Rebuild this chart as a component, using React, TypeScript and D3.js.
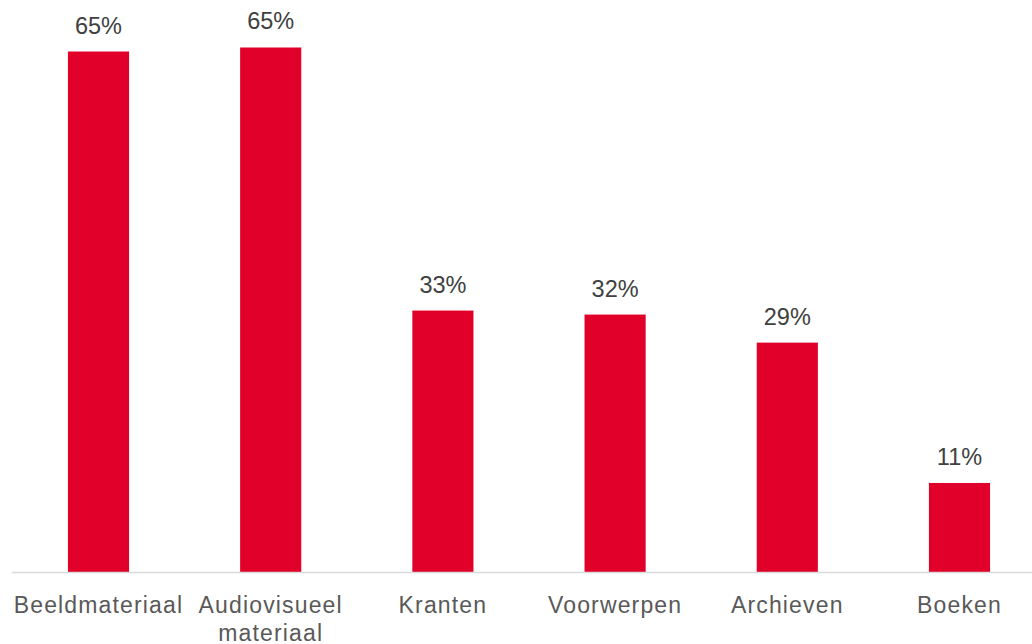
import React from "react";
import * as d3 from "d3";

const categories = ["Beeldmateriaal", "Audiovisueel materiaal", "Kranten", "Voorwerpen", "Archieven", "Boeken"];
const values = [64.9, 65.4, 32.6, 32.1, 28.6, 11.1];
const valueLabels = ["65%", "65%", "33%", "32%", "29%", "11%"];

const W = 1032;
const H = 644;
const baseline = 572;

function wrap(label: string, maxChars: number): string[] {
  const words = label.split(" ");
  const lines: string[] = [];
  let cur = "";
  for (const w of words) {
    const next = cur ? cur + " " + w : w;
    if (next.length > maxChars && cur) {
      lines.push(cur);
      cur = w;
    } else cur = next;
  }
  if (cur) lines.push(cur);
  return lines;
}

export default function App() {
  const x = d3.scaleBand<string>().domain(categories).range([12.4, 1045.6]).padding(0);
  const y = d3.scaleLinear().domain([0, 70]).range([baseline, baseline - 70 * 8.02]);
  const barW = x.bandwidth() * 0.355;
  const font = "'Liberation Sans', Arial, sans-serif";
  return (
    <svg
      width={W}
      height={H}
      style={{ position: "absolute", left: 0, top: 0, display: "block" }}
    >
      <rect x={0} y={0} width={W} height={H} fill="#ffffff" />
      {categories.map((c, i) => {
        const cx = (x(c) as number) + x.bandwidth() / 2;
        const top = y(values[i]);
        return (
          <g key={c}>
            <rect x={cx - barW / 2} y={top} width={barW} height={baseline - top} fill="#E0002A" />
            <text
              x={cx}
              y={top - 18}
              textAnchor="middle"
              fontFamily={font}
              fontSize={23.5}
              fill="#404040"
            >
              {valueLabels[i]}
            </text>
            {wrap(c, 15).map((line, k) => (
              <text
                key={k}
                x={cx}
                y={613 + k * 28}
                textAnchor="middle"
                fontFamily={font}
                fontSize={23}
                letterSpacing={1.15}
                fill="#595959"
              >
                {line}
              </text>
            ))}
          </g>
        );
      })}
      <line x1={12} x2={W} y1={baseline + 0.5} y2={baseline + 0.5} stroke="#d9d9d9" strokeWidth={1.5} />
    </svg>
  );
}
